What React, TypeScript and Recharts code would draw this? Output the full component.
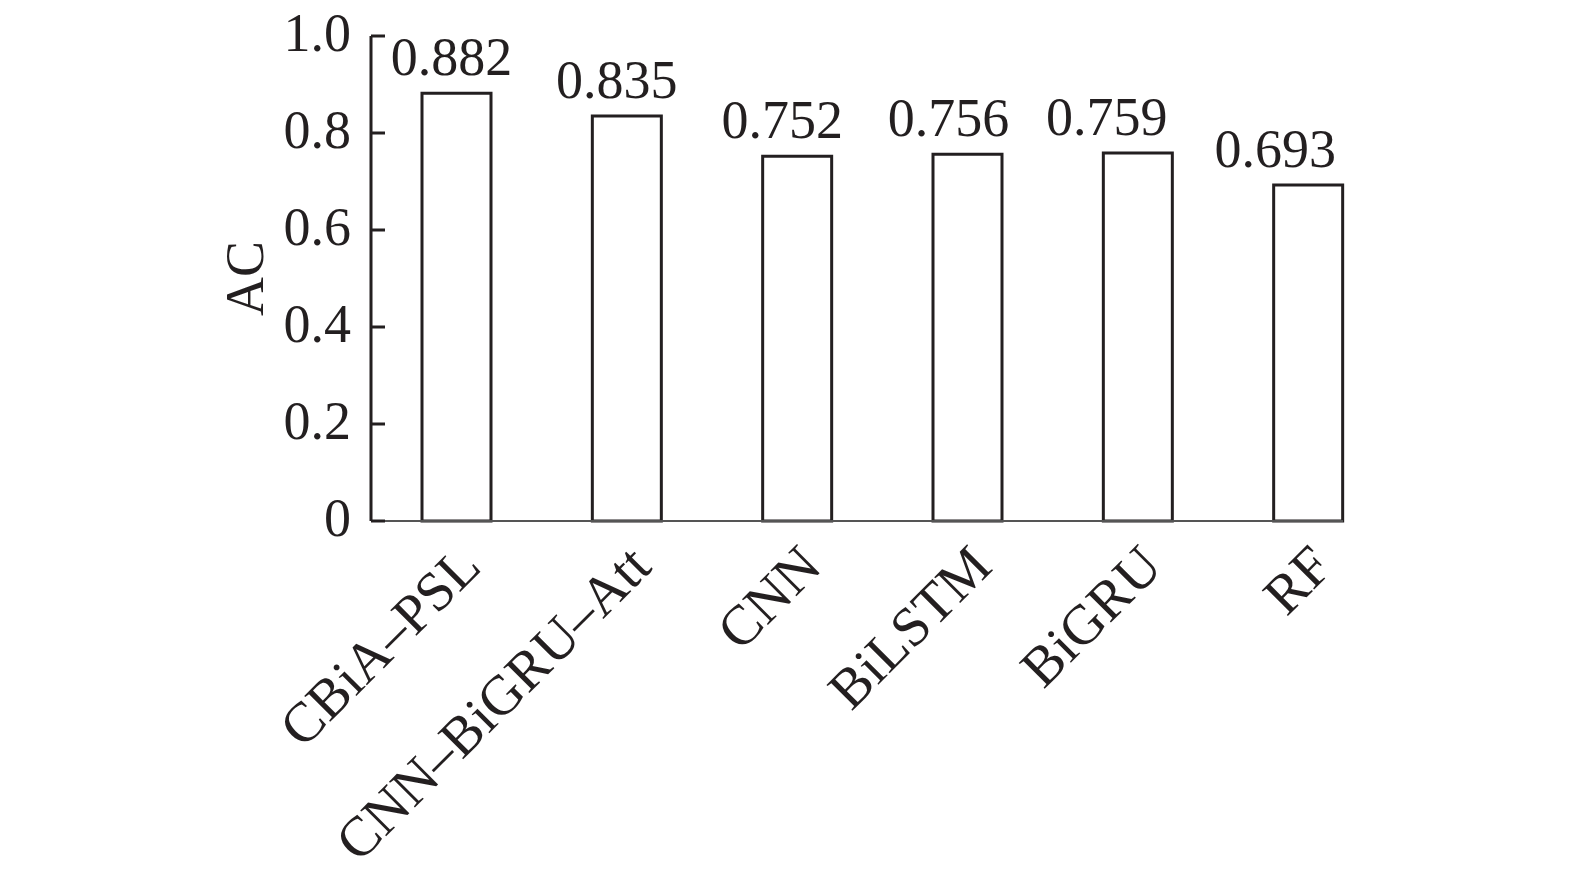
import React from "react"
import { BarChart, Bar, XAxis, YAxis, LabelList } from "recharts"

const categories = ["CBiA–PSL", "CNN–BiGRU–Att", "CNN", "BiLSTM", "BiGRU", "RF"]
const acValues = [0.882, 0.835, 0.752, 0.756, 0.759, 0.693]
const yTicks = [0, 0.2, 0.4, 0.6, 0.8, 1.0]
const yTickLabels = ["0", "0.2", "0.4", "0.6", "0.8", "1.0"]

const data = categories.map((name, i) => ({ name, ac: acValues[i] }))

const FONT = "'Liberation Serif', 'Times New Roman', serif"
const INK = "#231f20"
const TICK_MARGIN = 20
// the value labels in the original drift left of their bars
const LABEL_SHIFT = [-5, -10, -15, -19, -31, -33]

function YTick(props: any) {
  const { x, y, payload } = props
  const axisX = x + TICK_MARGIN
  const idx = yTicks.indexOf(payload.value)
  return (
    <g>
      <line x1={axisX} y1={y} x2={axisX + 14} y2={y} stroke={INK} strokeWidth={3} />
      <text x={x} y={y} dy={15} textAnchor="end" fontFamily={FONT} fontSize={54} fill={INK}>
        {idx >= 0 ? yTickLabels[idx] : payload.value}
      </text>
    </g>
  )
}

function XTick(props: any) {
  const { x, y, payload } = props
  return (
    <g transform={`translate(${x + 27},${y + 48})`}>
      <text
        transform="rotate(-45)"
        textAnchor="end"
        fontFamily={FONT}
        fontSize={56}
        fill={INK}
      >
        {payload.value}
      </text>
    </g>
  )
}

function ValueLabel(props: any) {
  const { x, y, width, value } = props
  let i = typeof props.index === "number" ? props.index : -1
  if (i < 0) i = acValues.indexOf(Number(value))
  const shift = LABEL_SHIFT[i] ?? 0
  return (
    <text
      x={Number(x) + Number(width) / 2 + shift}
      y={Number(y) - 18}
      textAnchor="middle"
      fontFamily={FONT}
      fontSize={54}
      fill={INK}
    >
      {Number(value).toFixed(3)}
    </text>
  )
}

export default function App() {
  // pull the chart over the body margin so it lines up with page pixels
  return (
    <div style={{ width: 1575, height: 874, margin: "-8px 0 0 -8px", background: "#fff" }}>
      <BarChart
        width={1575}
        height={874}
        data={data}
        margin={{ top: 36, right: 182, bottom: 0, left: 0 }}
        barSize={69}
      >
        <XAxis
          dataKey="name"
          height={353}
          tickSize={0}
          tickMargin={0}
          tickLine={false}
          interval={0}
          axisLine={{ stroke: "#555", strokeWidth: 2, strokeDasharray: "972 3000" }}
          tick={(p: any) => <XTick {...p} />}
        />
        <YAxis
          width={371}
          domain={[0, 1]}
          ticks={yTicks}
          tickSize={0}
          tickMargin={TICK_MARGIN}
          tickLine={false}
          axisLine={{ stroke: INK, strokeWidth: 3 }}
          tick={(p: any) => <YTick {...p} />}
          label={{
            value: "AC",
            angle: -90,
            position: "center",
            dx: 58,
            fontFamily: FONT,
            fontSize: 54,
            fill: INK,
          }}
        />
        <Bar dataKey="ac" fill="#fff" stroke={INK} strokeWidth={3} isAnimationActive={false}>
          <LabelList dataKey="ac" content={(p: any) => <ValueLabel {...p} />} />
        </Bar>
      </BarChart>
    </div>
  )
}
